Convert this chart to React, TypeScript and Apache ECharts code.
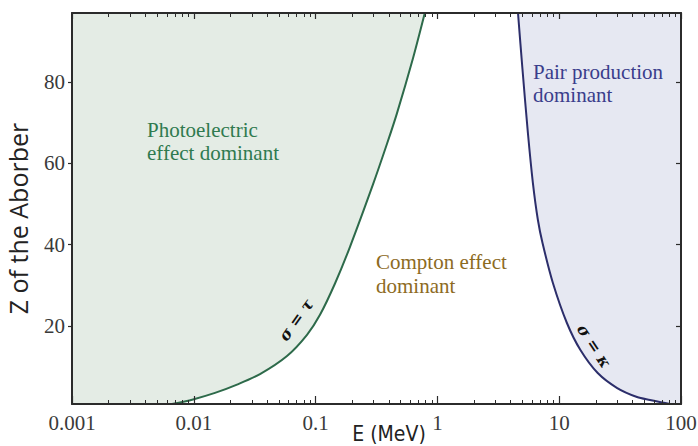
import React, { useEffect, useRef } from "react";
import * as echarts from "echarts";

// ---- data ----
const xTickValues = [0.001, 0.01, 0.1, 1, 10, 100];
const xTickLabels = ["0.001", "0.01", "0.1", "1", "10", "100"];
const minorMultipliers = [2, 3, 4, 5, 6, 7, 8, 9];
const minorDecades = [0.001, 0.01, 0.1, 1, 10];
const yTickValues = [20, 40, 60, 80];

// boundary photoelectric = Compton (sigma = tau)
const photoE = [0.006623, 0.00985, 0.01493, 0.02263, 0.03496, 0.05824, 0.085, 0.10867, 0.14428, 0.19158, 0.29599, 0.38571, 0.46608, 0.63047, 0.78807];
const photoZ = [0.8, 1.93, 3.53, 5.57, 8.16, 12.61, 17.83, 22.75, 30.45, 39.48, 54.83, 64.82, 72.37, 85.88, 97];
// boundary Compton = pair production (sigma = kappa)
const pairE = [4.589, 4.977, 5.534, 6.083, 6.686, 7.295, 8.878, 11.57, 14.94, 20.71, 29.94, 43.54, 55.66, 69.83, 81.2];
const pairZ = [97, 83.71, 67.48, 55.17, 46.07, 40.41, 30.57, 20.73, 14.08, 8.42, 4.73, 2.52, 1.78, 1.17, 0.8];

const X_MIN = 0.001;
const X_MAX = 100;
const Y_MIN = 0.8;
const Y_MAX = 97;

const AXIS = "#2b2b2b";
const GREEN_FILL = "#e4ece5";
const GREEN_LINE = "#2d6a4a";
const BLUE_FILL = "#e6e8f2";
const BLUE_LINE = "#2c2e6b";

export default function App() {
  const ref = useRef<HTMLDivElement>(null);

  useEffect(() => {
    if (!ref.current) return;
    const chart = echarts.init(ref.current, undefined, { renderer: "svg" });

    const minorTicks: number[] = [];
    minorDecades.forEach((d) => minorMultipliers.forEach((m) => minorTicks.push(+(d * m).toPrecision(3))));

    const photoLine = photoE.map((e, i) => [e, photoZ[i]]);
    const pairLine = pairE.map((e, i) => [e, pairZ[i]]);
    const photoFill = [[X_MIN, Y_MIN], ...photoLine];
    const pairFill = [...pairLine, [X_MAX, Y_MIN]];

    const serif = '"Liberation Serif", "Times New Roman", serif';
    const xFmt = (v: number) => {
      const idx = Math.round(Math.log10(v)) + 3;
      return xTickLabels[idx] ?? String(v);
    };

    const baseX = { type: "log", logBase: 10, min: X_MIN, max: X_MAX, z: 5, splitLine: { show: false } };
    const baseY = { type: "value", min: Y_MIN, max: Y_MAX, z: 5, splitLine: { show: false } };

    const option: any = {
      animation: false,
      backgroundColor: "#ffffff",
      grid: { left: 72, right: 17, top: 13, bottom: 42, containLabel: false, outerBoundsMode: "none" },
      xAxis: [
        {
          ...baseX,
          position: "bottom",
          axisLine: { show: true, lineStyle: { color: AXIS, width: 2 } },
          axisTick: { show: true, inside: true, length: 8, customValues: xTickValues, lineStyle: { color: AXIS, width: 1.2 } },
          axisLabel: { show: true, customValues: xTickValues, formatter: xFmt, margin: 8, color: "#3a3a3a", fontFamily: serif, fontSize: 21 },
          name: "E (MeV)",
          nameLocation: "middle",
          nameGap: 19,
          nameMoveOverlap: false,
          nameTextStyle: { fontFamily: '"Liberation Sans Narrow", "DejaVu Sans Condensed", "Open Sans", sans-serif', fontSize: 21, color: "#222", padding: [0, 0, 0, 25] },
        },
        {
          ...baseX,
          position: "bottom",
          axisLine: { show: false },
          axisTick: { show: true, inside: true, length: 4, customValues: minorTicks, lineStyle: { color: AXIS, width: 1 } },
          axisLabel: { show: false },
        },
        {
          ...baseX,
          position: "top",
          axisLine: { show: true, lineStyle: { color: AXIS, width: 2 } },
          axisTick: { show: true, inside: true, length: 6, customValues: xTickValues, lineStyle: { color: AXIS, width: 1.2 } },
          axisLabel: { show: false },
        },
        {
          ...baseX,
          position: "top",
          axisLine: { show: false },
          axisTick: { show: true, inside: true, length: 4, customValues: minorTicks, lineStyle: { color: AXIS, width: 1 } },
          axisLabel: { show: false },
        },
      ],
      yAxis: [
        {
          ...baseY,
          position: "left",
          axisLine: { show: true, lineStyle: { color: AXIS, width: 2 } },
          axisTick: { show: true, inside: false, length: 4, customValues: yTickValues, lineStyle: { color: AXIS, width: 1.2 } },
          axisLabel: { show: true, customValues: yTickValues, margin: 7, color: "#3a3a3a", fontFamily: serif, fontSize: 21 },
          name: "Z of the Aborber",
          nameLocation: "middle",
          nameRotate: 90,
          nameGap: 42,
          nameMoveOverlap: false,
          nameTextStyle: { fontFamily: '"Open Sans", sans-serif', fontSize: 25, color: "#222", padding: [0, 20, 0, 0] },
        },
        {
          ...baseY,
          position: "right",
          axisLine: { show: true, lineStyle: { color: AXIS, width: 2 } },
          axisTick: { show: true, inside: true, length: 5, customValues: yTickValues, lineStyle: { color: AXIS, width: 1.2 } },
          axisLabel: { show: false },
        },
      ],
      series: [
        {
          type: "line",
          name: "photo region",
          data: photoFill,
          xAxisIndex: 0,
          yAxisIndex: 0,
          symbol: "none",
          smooth: 0.3,
          silent: true,
          lineStyle: { width: 0, opacity: 0 },
          areaStyle: { color: GREEN_FILL, opacity: 1, origin: "end" },
          z: 1,
        },
        {
          type: "line",
          name: "pair region",
          data: pairFill,
          xAxisIndex: 0,
          yAxisIndex: 0,
          symbol: "none",
          smooth: 0.3,
          silent: true,
          lineStyle: { width: 0, opacity: 0 },
          areaStyle: { color: BLUE_FILL, opacity: 1, origin: "end" },
          z: 1,
        },
        {
          type: "line",
          name: "sigma = tau",
          data: photoLine,
          xAxisIndex: 0,
          yAxisIndex: 0,
          symbol: "none",
          smooth: 0.3,
          lineStyle: { color: GREEN_LINE, width: 2 },
          z: 3,
        },
        {
          type: "line",
          name: "sigma = kappa",
          data: pairLine,
          xAxisIndex: 0,
          yAxisIndex: 0,
          symbol: "none",
          smooth: 0.3,
          lineStyle: { color: BLUE_LINE, width: 2 },
          z: 3,
        },
      ],
      graphic: [
        {
          type: "text",
          left: 147,
          top: 118,
          z: 10,
          style: { text: "Photoelectric\neffect dominant", fill: "#2f7a4f", font: `21px ${serif}`, lineHeight: 23 },
        },
        {
          type: "text",
          left: 376,
          top: 250,
          z: 10,
          style: { text: "Compton effect\ndominant", fill: "#8d6b1f", font: `21px ${serif}`, lineHeight: 24 },
        },
        {
          type: "text",
          left: 533,
          top: 60,
          z: 10,
          style: { text: "Pair production\ndominant", fill: "#3a3d8c", font: `21px ${serif}`, lineHeight: 23 },
        },
        {
          type: "text",
          x: 296,
          y: 320,
          rotation: 0.95,
          z: 10,
          style: { text: "σ = τ", fill: "#111", font: 'italic bold 16px "DejaVu Serif", serif', align: "center", verticalAlign: "middle" },
        },
        {
          type: "text",
          x: 594,
          y: 346,
          rotation: -0.99,
          z: 10,
          style: { text: "σ = κ", fill: "#111", font: 'italic bold 16px "DejaVu Serif", serif', align: "center", verticalAlign: "middle" },
        },
      ],
    };

    chart.setOption(option);
    return () => chart.dispose();
  }, []);

  return <div ref={ref} style={{ width: 698, height: 446, position: "absolute", left: 0, top: 0 }} />;
}
